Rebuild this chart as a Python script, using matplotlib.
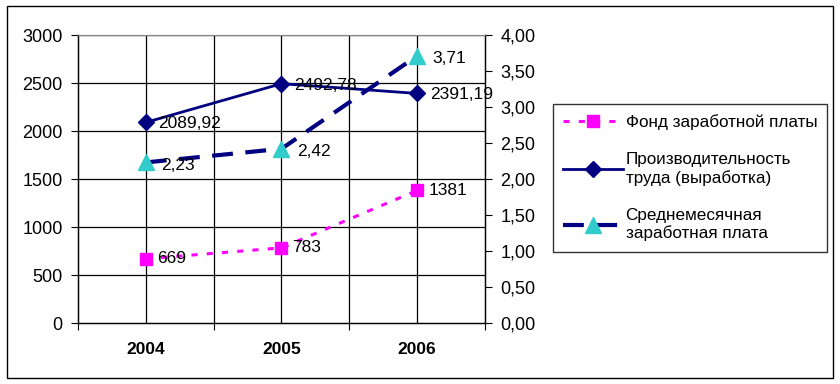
import matplotlib
matplotlib.use('Agg')
import matplotlib.pyplot as plt
from matplotlib.patches import Rectangle
from matplotlib.ticker import FuncFormatter, MultipleLocator

plt.rcParams['font.family'] = ['Liberation Sans', 'DejaVu Sans']

years = ['2004', '2005', '2006']
fund = [669, 783, 1381]
productivity = [2089.92, 2492.78, 2391.19]
avg_salary = [2.23, 2.42, 3.71]

fund_labels = ['669', '783', '1381']
prod_labels = ['2089,92', '2492,78', '2391,19']
sal_labels = ['2,23', '2,42', '3,71']

navy = '#000080'
magenta = '#FF00FF'
cyan = '#33CCCC'

fig = plt.figure(figsize=(8.4, 3.84), dpi=100)
fig.patches.append(Rectangle((7 / 840, 6 / 384), 826 / 840, 372 / 384,
                             transform=fig.transFigure, fill=False,
                             edgecolor='black', linewidth=1))

ax = fig.add_axes([78 / 840, 61 / 384, 407 / 840, 288 / 384])
ax2 = ax.twinx()

x = list(range(len(years)))

l1, = ax.plot(x, fund, color=magenta, linestyle=(0, (2, 3)), linewidth=2.2,
              marker='s', markersize=9, markerfacecolor=magenta,
              markeredgecolor=magenta, zorder=3)
l2, = ax.plot(x, productivity, color=navy, linewidth=2,
              marker='D', markersize=8, markerfacecolor=navy,
              markeredgecolor=navy, zorder=3)
l3, = ax2.plot(x, avg_salary, color=navy, linestyle=(0, (5, 3)), linewidth=3,
               marker='^', markersize=12, markerfacecolor=cyan,
               markeredgecolor=cyan, zorder=3)

for xi, v, t in zip(x, fund, fund_labels):
    ax.annotate(t, (xi, v), xytext=(8, 0), textcoords='offset points',
                va='center', ha='left', fontsize=12.5)
for xi, v, t in zip(x, productivity, prod_labels):
    ax.annotate(t, (xi, v), xytext=(9, -1), textcoords='offset points',
                va='center', ha='left', fontsize=12.5)
for xi, v, t in zip(x, avg_salary, sal_labels):
    ax2.annotate(t, (xi, v), xytext=(11, -2), textcoords='offset points',
                 va='center', ha='left', fontsize=12.5)

ax.set_xlim(-0.5, 2.5)
ax.set_ylim(0, 3000)
ax2.set_ylim(0, 4)
ax.yaxis.set_major_locator(MultipleLocator(500))
ax2.yaxis.set_major_locator(MultipleLocator(0.5))
ax2.yaxis.set_major_formatter(FuncFormatter(lambda v, p: f'{v:.2f}'.replace('.', ',')))

ax.set_xticks([-0.5, 0.5, 1.5, 2.5])
ax.set_xticklabels([])
ax.set_xticks(x, minor=True)
ax.set_xticklabels(years, minor=True, fontweight='bold', fontsize=12.5)
ax.tick_params(axis='x', which='major', length=5, direction='out')
ax.tick_params(axis='x', which='minor', length=0, pad=14)
ax.tick_params(axis='y', length=5, labelsize=13, pad=6)
ax2.tick_params(axis='y', length=5, labelsize=13, pad=6)

for v in range(500, 3001, 500):
    ax.axhline(v, color='black', linewidth=0.9, zorder=1)
for xv in [0, 0.5, 1, 1.5, 2]:
    ax.axvline(xv, color='black', linewidth=0.9, zorder=1)

for a in (ax, ax2):
    a.spines['top'].set_color('#888888')
    a.spines['left'].set_linewidth(0.9)
    a.spines['right'].set_linewidth(0.9)
    a.spines['bottom'].set_linewidth(0.9)

leg = fig.legend([l1, l2, l3],
                 ['Фонд заработной платы',
                  'Производительность\nтруда (выработка)',
                  'Среднемесячная\nзаработная плата'],
                 loc='upper left', bbox_to_anchor=(553 / 840, 1 - 104 / 384),
                 fontsize=12.3, frameon=True, fancybox=False, handlelength=3.5,
                 handletextpad=0.15, labelspacing=1.3, borderpad=0.6,
                 borderaxespad=0)
leg.get_frame().set_edgecolor('black')
leg.get_frame().set_linewidth(1)

fig.savefig('out.png', dpi=100)
